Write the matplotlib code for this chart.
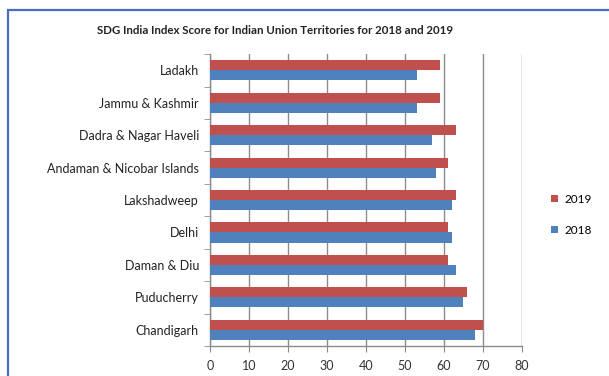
import matplotlib
matplotlib.use('Agg')
import numpy as np
import matplotlib.pyplot as plt
from matplotlib.patches import Rectangle

# data, top to bottom as shown
territories = ["Ladakh", "Jammu & Kashmir", "Dadra & Nagar Haveli",
               "Andaman & Nicobar Islands", "Lakshadweep", "Delhi",
               "Daman & Diu", "Puducherry", "Chandigarh"]
score_2019 = [59, 59, 63, 61, 63, 61, 61, 66, 70]
score_2018 = [53, 53, 57, 58, 62, 62, 63, 65, 68]
xticks = [0, 10, 20, 30, 40, 50, 60, 70, 80]

RED = '#C0504D'
BLUE = '#4F81BD'
GRID = '#8C8C8C'

plt.rcParams['font.family'] = ['Lato', 'DejaVu Sans']

fig = plt.figure(figsize=(6.09, 3.76), dpi=100)
ax = fig.add_axes([0.345, 0.080, 0.512, 0.776])

n = len(territories)
y = np.arange(n)[::-1]
h = 0.31
ax.barh(y + h / 2, score_2019, height=h, color=RED, label='2019', zorder=3)
ax.barh(y - h / 2, score_2018, height=h, color=BLUE, label='2018', zorder=3)

ax.set_xlim(0, 80)
ax.set_ylim(-0.5, n - 0.5)
ax.set_xticks(xticks)
ax.set_xticklabels([str(t) for t in xticks], fontsize=9, color='#333333')
ax.set_yticks(y)
ax.set_yticklabels(territories, fontsize=9, color='#222222')
ax.set_yticks(np.arange(n + 1) - 0.5, minor=True)

ax.tick_params(axis='y', which='major', length=0, pad=8)
ax.tick_params(axis='y', which='minor', length=4, color=GRID, direction='out')
ax.tick_params(axis='x', which='major', length=4, color=GRID, direction='out', pad=6)

ax.grid(axis='x', color=GRID, linewidth=1.0, zorder=0)
ax.set_axisbelow(True)
for s in ['top', 'right']:
    ax.spines[s].set_visible(False)
for s in ['left', 'bottom']:
    ax.spines[s].set_color(GRID)
    ax.spines[s].set_linewidth(1.0)

fig.text(0.452, 0.92, 'SDG India Index Score for Indian Union Territories for 2018 and 2019',
         ha='center', va='center', fontsize=8.3, fontweight='bold', color='#222222')

leg = ax.legend(loc='center left', bbox_to_anchor=(1.06, 0.45), frameon=False,
                fontsize=8.5, handlelength=0.55, handleheight=0.55, labelspacing=1.7,
                handletextpad=0.6)

# outer chart frame
fig.patches.append(Rectangle((8 / 609, -0.05), 1.0, 1 - 10 / 376 + 0.05,
                             transform=fig.transFigure, fill=False,
                             edgecolor='#4A6CC4', linewidth=1.6))

fig.savefig('out.png', dpi=100)
